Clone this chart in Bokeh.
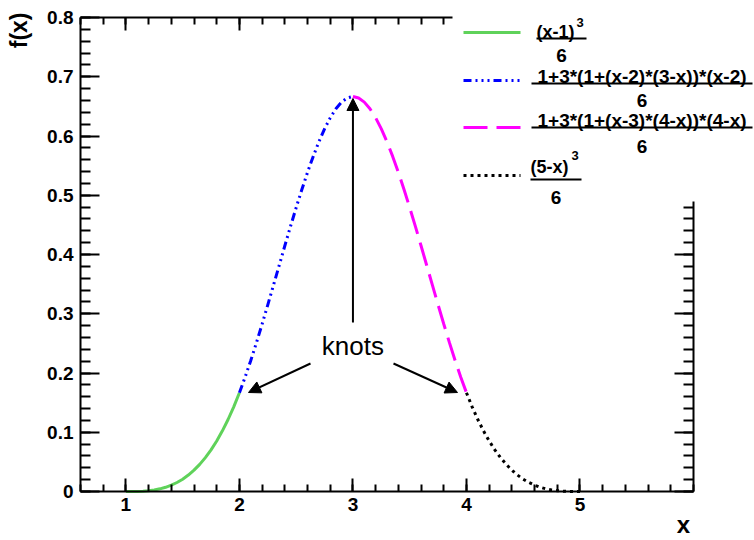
from bokeh.plotting import figure
from bokeh.models import LinearAxis, FixedTicker, Arrow, NormalHead, Label, BoxAnnotation
from bokeh.embed import file_html
from bokeh.resources import INLINE

# ---------------- data ----------------
seg1_x = [1.00, 1.05, 1.10, 1.15, 1.20, 1.25, 1.30, 1.35, 1.40, 1.45, 1.50,
          1.55, 1.60, 1.65, 1.70, 1.75, 1.80, 1.85, 1.90, 1.95, 2.00]
seg1_y = [0.0000, 0.0000, 0.0002, 0.0006, 0.0013, 0.0026, 0.0045, 0.0071, 0.0107, 0.0152, 0.0208,
          0.0277, 0.0360, 0.0458, 0.0572, 0.0703, 0.0853, 0.1024, 0.1215, 0.1429, 0.1667]
seg2_x = [2.00, 2.05, 2.10, 2.15, 2.20, 2.25, 2.30, 2.35, 2.40, 2.45, 2.50,
          2.55, 2.60, 2.65, 2.70, 2.75, 2.80, 2.85, 2.90, 2.95, 3.00]
seg2_y = [0.1667, 0.1929, 0.2212, 0.2512, 0.2827, 0.3151, 0.3482, 0.3815, 0.4147, 0.4474, 0.4792,
          0.5097, 0.5387, 0.5656, 0.5902, 0.6120, 0.6307, 0.6459, 0.6572, 0.6642, 0.6667]
seg3_x = [3.00, 3.05, 3.10, 3.15, 3.20, 3.25, 3.30, 3.35, 3.40, 3.45, 3.50,
          3.55, 3.60, 3.65, 3.70, 3.75, 3.80, 3.85, 3.90, 3.95, 4.00]
seg3_y = [0.6667, 0.6642, 0.6572, 0.6459, 0.6307, 0.6120, 0.5902, 0.5656, 0.5387, 0.5097, 0.4792,
          0.4474, 0.4147, 0.3815, 0.3482, 0.3151, 0.2827, 0.2512, 0.2212, 0.1929, 0.1667]
seg4_x = [4.00, 4.05, 4.10, 4.15, 4.20, 4.25, 4.30, 4.35, 4.40, 4.45, 4.50,
          4.55, 4.60, 4.65, 4.70, 4.75, 4.80, 4.85, 4.90, 4.95, 5.00]
seg4_y = [0.1667, 0.1429, 0.1215, 0.1024, 0.0853, 0.0703, 0.0572, 0.0458, 0.0360, 0.0277, 0.0208,
          0.0152, 0.0107, 0.0071, 0.0045, 0.0026, 0.0013, 0.0006, 0.0002, 0.0000, 0.0000]

x_ticks = [1, 2, 3, 4, 5]
x_tick_labels = ["1", "2", "3", "4", "5"]
y_ticks = [0, 0.1, 0.2, 0.3, 0.4, 0.5, 0.6, 0.7, 0.8]
y_tick_labels = ["0", "0.1", "0.2", "0.3", "0.4", "0.5", "0.6", "0.7", "0.8"]

legend_numerators = ["(x-1)", "1+3*(1+(x-2)*(3-x))*(x-2)", "1+3*(1+(x-3)*(4-x))*(4-x)", "(5-x)"]
legend_superscripts = ["3", "", "", "3"]
legend_denominator = "6"

knot_label = "knots"
knot_x = [2.0, 3.0, 4.0]
knot_y = [0.1667, 0.6667, 0.1667]

# ---------------- layout ----------------
W, H = 754, 540
FL, FR, FT, FB = 80, 693, 17, 491          # pixel box of the drawn axes
XMIN, XMAX, YMIN, YMAX = 0.6, 6.0, 0.0, 0.8


def px2x(px):
    return XMIN + (px - FL) * (XMAX - XMIN) / (FR - FL)


def px2y(py):
    return YMIN + (FB - py) * (YMAX - YMIN) / (FB - FT)


FONT = "Liberation Sans"

p = figure(width=W, height=H, x_range=(px2x(0), px2x(W)), y_range=(px2y(H), px2y(0)),
           x_axis_type=None, y_axis_type=None,
           output_backend="svg", toolbar_location=None,
           min_border_left=0, min_border_right=0, min_border_top=0, min_border_bottom=0)
p.outline_line_color = None
p.xgrid.visible = False
p.ygrid.visible = False
p.background_fill_color = "white"
p.border_fill_color = "white"

x_minor = [round(0.6 + 0.2 * i, 2) for i in range(28)]
y_minor = [round(0.02 * i, 2) for i in range(41)]


def style(ax, major, minor):
    ax.major_tick_in = major
    ax.major_tick_out = 0
    ax.minor_tick_in = minor
    ax.minor_tick_out = 0
    ax.axis_line_width = 2
    ax.major_tick_line_width = 2
    ax.minor_tick_line_width = 2
    ax.axis_line_color = "black"
    ax.major_tick_line_color = "black"
    ax.minor_tick_line_color = "black"
    ax.major_label_text_font = FONT
    ax.major_label_text_font_style = "bold"
    ax.major_label_text_font_size = "19px"
    ax.major_label_text_color = "black"


xb = LinearAxis(ticker=FixedTicker(ticks=x_ticks, minor_ticks=x_minor),
                major_label_overrides=dict(zip(x_ticks, x_tick_labels)),
                fixed_location=YMIN, bounds=(XMIN, XMAX))
style(xb, 13, 7)
xb.major_label_standoff = 6
p.add_layout(xb, "below")

xa = LinearAxis(ticker=FixedTicker(ticks=x_ticks, minor_ticks=x_minor),
                major_label_overrides={t: "" for t in x_ticks},
                fixed_location=YMAX, bounds=(XMIN, XMAX))
style(xa, 13, 7)
p.add_layout(xa, "above")

yl = LinearAxis(ticker=FixedTicker(ticks=y_ticks, minor_ticks=y_minor),
                major_label_overrides=dict(zip(y_ticks, y_tick_labels)),
                fixed_location=XMIN, bounds=(YMIN, YMAX))
style(yl, 19, 10)
yl.major_label_standoff = 7
p.add_layout(yl, "left")

yr = LinearAxis(ticker=FixedTicker(ticks=y_ticks, minor_ticks=y_minor),
                major_label_overrides={t: "" for t in y_ticks},
                fixed_location=XMAX, bounds=(YMIN, YMAX))
style(yr, 19, 10)
p.add_layout(yr, "right")

# ---------------- curves ----------------
GREEN, BLUE, MAGENTA, BLACK = "#5fd25a", "#0000ff", "#ff00ff", "#000000"
styles = [
    (GREEN, "solid"),
    (BLUE, "8 4 2 4 2 4 2 4"),
    (MAGENTA, "24 9"),
    (BLACK, "3 4"),
]
segs = [(seg1_x, seg1_y), (seg2_x, seg2_y), (seg3_x, seg3_y), (seg4_x, seg4_y)]
for (sx, sy), (c, d) in zip(segs, styles):
    p.line(sx, sy, line_color=c, line_width=3, line_dash=d)

# ---------------- knots annotation ----------------
p.add_layout(Label(x=3.0, y=px2y(345), text=knot_label, text_font=FONT,
                   text_font_size="26px", text_align="center", text_baseline="middle",
                   text_color="black"))
arrow_starts = [(px2x(310), px2y(363)), (3.0, px2y(322)), (px2x(393), px2y(363))]
arrow_ends = [(px2x(248), px2y(392)), (knot_x[1], px2y(98)), (px2x(457), px2y(392))]
for (xs, ys), (xe, ye) in zip(arrow_starts, arrow_ends):
    p.add_layout(Arrow(end=NormalHead(size=12, fill_color="black", line_color="black", line_width=1),
                       x_start=xs, y_start=ys, x_end=xe, y_end=ye,
                       line_color="black", line_width=2))

# ---------------- axis titles ----------------
p.add_layout(Label(x=px2x(683), y=px2y(524), text="x", text_font=FONT, text_font_style="bold",
                   text_font_size="24px", text_align="center", text_baseline="middle",
                   text_color="black"))
p.add_layout(Label(x=px2x(18), y=px2y(12), text="f(x)", text_font=FONT, text_font_style="bold",
                   text_font_size="23px", text_align="right", text_baseline="middle",
                   angle=1.5708, text_color="black"))

# ---------------- legend (white box over the frame corner) ----------------
p.add_layout(BoxAnnotation(left=px2x(452), right=px2x(W), top=px2y(0), bottom=px2y(201),
                           fill_color="white", fill_alpha=1.0, line_color=None,
                           level="annotation"))

sample_y = [32, 80, 127, 175]
num_base = [31, 76, 120, 166]
bar_y = [38, 83, 127, 179]
bar_x = [(536, 586), (531, 752), (531, 752), (530, 581)]
den_base = [55, 100, 146, 197]
sup_base = [22, None, None, 155]
sup_x = [576, None, None, 571]

for i in range(4):
    c, d = styles[i]
    p.line([px2x(463), px2x(520)], [px2y(sample_y[i])] * 2, line_color=c, line_width=3,
           line_dash=d, level="overlay")
    bx0, bx1 = bar_x[i]
    cx = (bx0 + bx1) / 2
    if legend_superscripts[i]:
        p.add_layout(Label(x=px2x(bx0), y=px2y(num_base[i]), text=legend_numerators[i],
                           text_font=FONT, text_font_style="bold", text_font_size="18px",
                           text_align="left", text_baseline="alphabetic", text_color="black",
                           level="overlay"))
        p.add_layout(Label(x=px2x(sup_x[i]), y=px2y(sup_base[i]), text=legend_superscripts[i],
                           text_font=FONT, text_font_style="bold", text_font_size="13px",
                           text_align="left", text_baseline="alphabetic", text_color="black",
                           level="overlay"))
    else:
        p.add_layout(Label(x=px2x(cx), y=px2y(num_base[i]), text=legend_numerators[i],
                           text_font=FONT, text_font_style="bold", text_font_size="19px",
                           text_align="center", text_baseline="alphabetic", text_color="black",
                           level="overlay"))
    p.line([px2x(bx0), px2x(bx1)], [px2y(bar_y[i])] * 2, line_color="black", line_width=2,
           level="overlay")
    p.add_layout(Label(x=px2x(cx), y=px2y(den_base[i]), text=legend_denominator,
                       text_font=FONT, text_font_style="bold", text_font_size="19px",
                       text_align="center", text_baseline="alphabetic", text_color="black",
                       level="overlay"))

open("out.html", "w").write(file_html(p, INLINE))
